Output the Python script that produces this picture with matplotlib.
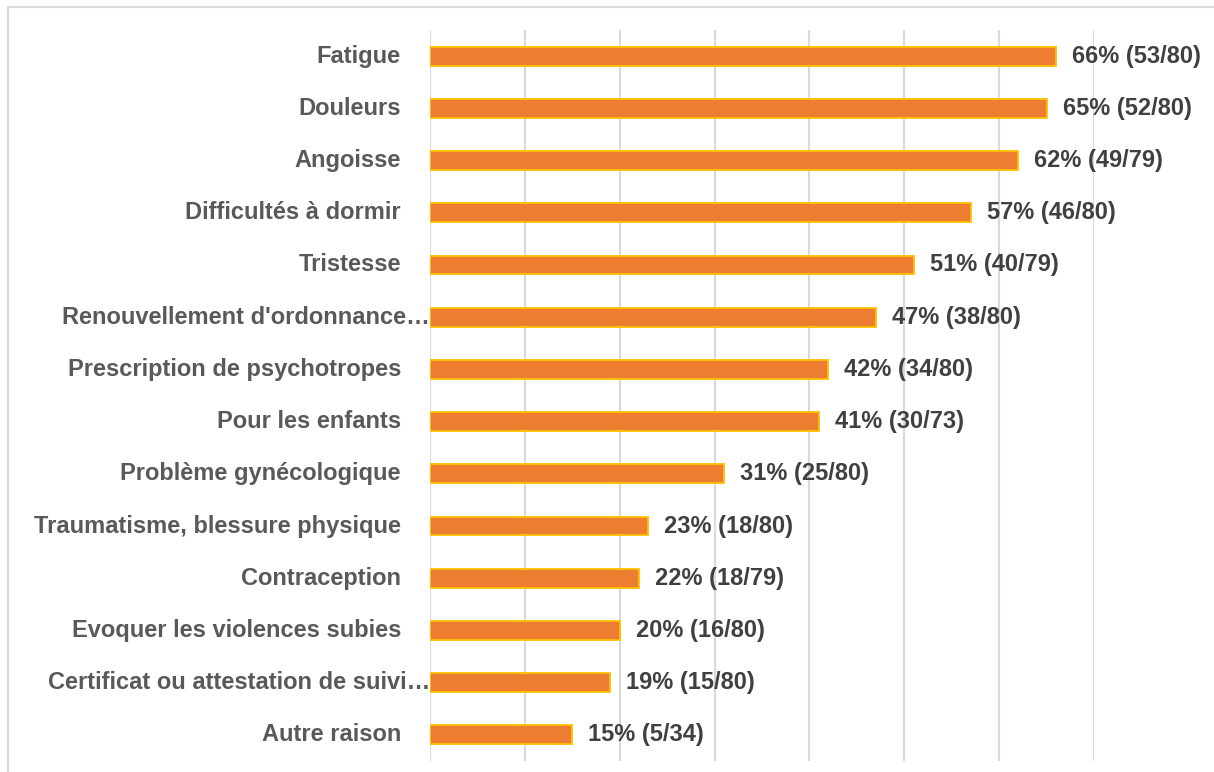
import matplotlib
matplotlib.use("Agg")
import matplotlib.pyplot as plt
from matplotlib.patches import Rectangle
from matplotlib.transforms import blended_transform_factory

categories = ["Fatigue", "Douleurs", "Angoisse", "Difficultés à dormir", "Tristesse",
              "Renouvellement d'ordonnance…", "Prescription de psychotropes",
              "Pour les enfants", "Problème gynécologique",
              "Traumatisme, blessure physique", "Contraception",
              "Evoquer les violences subies", "Certificat ou attestation de suivi…",
              "Autre raison"]
percents = [66, 65, 62, 57, 51, 47, 42, 41, 31, 23, 22, 20, 19, 15]
counts = ["53/80", "52/80", "49/79", "46/80", "40/79", "38/80", "34/80", "30/73",
          "25/80", "18/80", "18/79", "16/80", "15/80", "5/34"]
truncated = [c.endswith("…") for c in categories]

W, H = 1214, 772
fig = plt.figure(figsize=(W / 100, H / 100), dpi=100)
ax = fig.add_axes([430 / W, (H - 761) / H, (1094 - 430) / W, (761 - 30) / H])

ys = list(range(len(categories)))
ax.barh(ys, percents, height=0.36, color="#ED7D31", edgecolor="#FFC000",
        linewidth=1.3, zorder=3)
ax.set_xlim(0, 70)
ax.set_ylim(len(categories) - 0.5, -0.5)
ax.set_xticks(range(0, 71, 10))
ax.grid(axis="x", color="#D9D9D9", linewidth=1.5, zorder=0)
ax.tick_params(length=0, labelbottom=False, labelleft=False)
for s in ax.spines.values():
    s.set_visible(False)

fs = 17
for y, p, c in zip(ys, percents, counts):
    ax.annotate(f"{p}% ({c})", (p, y), xytext=(16, 0), textcoords="offset pixels",
                ha="left", va="center", fontsize=fs, fontweight="bold",
                color="#404040", family="Liberation Sans", annotation_clip=False)

trans = blended_transform_factory(ax.transAxes, ax.transData)
for y, cat, tr in zip(ys, categories, truncated):
    off = 0 if tr else -29
    ax.annotate(cat, (0, y), xycoords=trans, xytext=(off, 0), textcoords="offset pixels",
                ha="right", va="center", fontsize=fs, fontweight="bold",
                color="#595959", family="Liberation Sans", annotation_clip=False)

fig.patches.append(Rectangle((8 / W, -0.1), 1.2, 1.1 - 7 / H, transform=fig.transFigure,
                             fill=False, edgecolor="#D9D9D9", linewidth=1.5))

fig.savefig("out.png", dpi=100)
